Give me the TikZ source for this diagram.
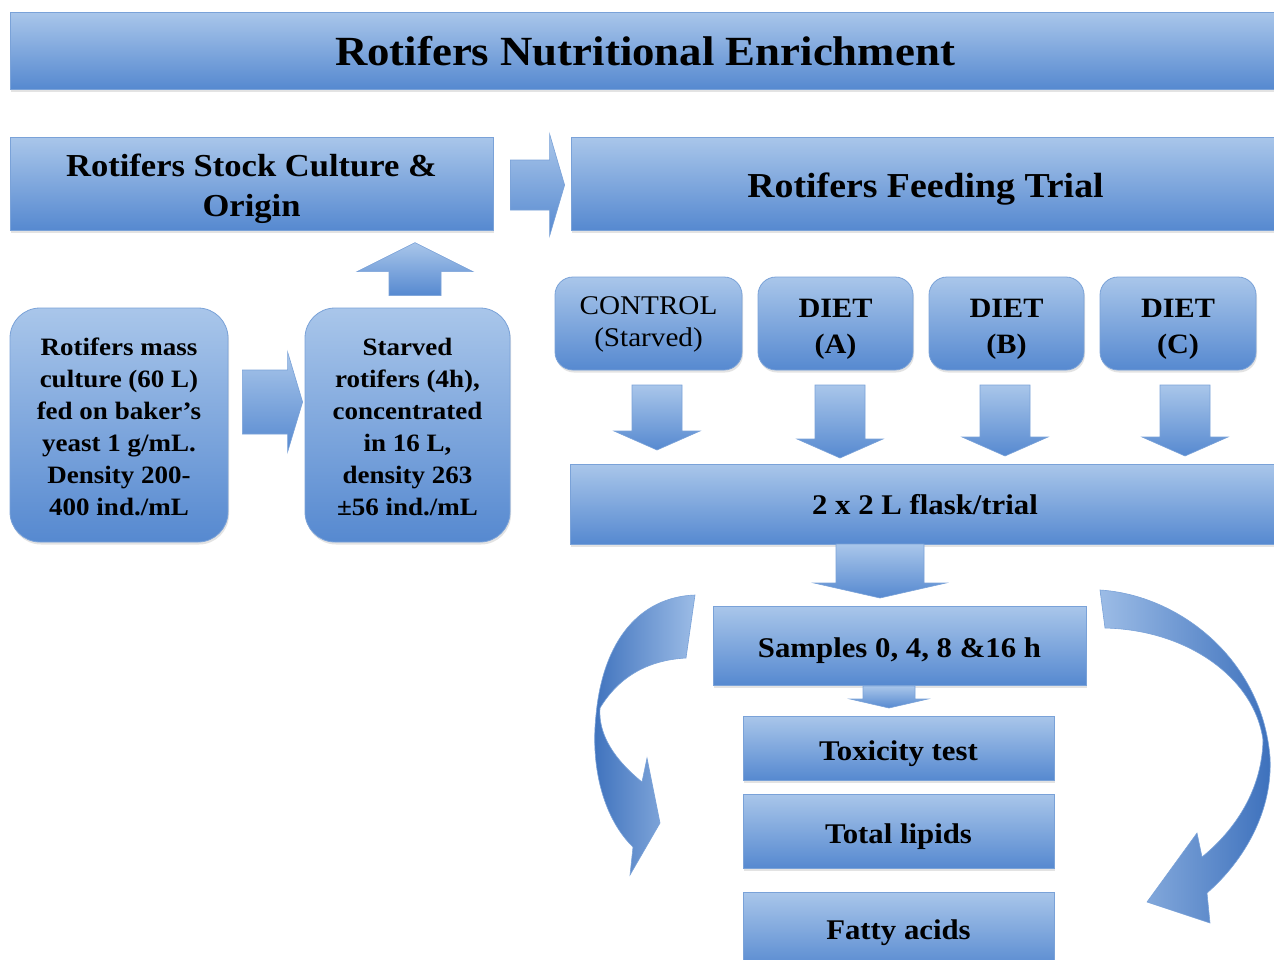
\documentclass[tikz,border=0pt]{standalone}
\usepackage{fontspec}
\setmainfont[FakeStretch=1.08]{Liberation Serif}
\usepackage{xcolor}
\usepackage{tikz}
\usetikzlibrary{calc,shadows}

\definecolor{boxtop}{RGB}{169,198,234}
\definecolor{boxbottom}{RGB}{86,137,208}
\definecolor{boxline}{RGB}{122,162,216}
\definecolor{arrowdark}{RGB}{60,112,188}
\definecolor{arrowlight}{RGB}{156,188,230}

% start, tip, shaft half width, head half width, head length
\newcommand{\blockarrow}[5]{%
	\coordinate (hb) at ($(#2)!#5pt!(#1)$);
	\path[arrowshade] ($(#1)!#3pt!90:(#2)$) -- ($(hb)!#3pt!90:(#2)$) -- ($(hb)!#4pt!90:(#2)$) -- (#2)
		-- ($(hb)!#4pt!-90:(#2)$) -- ($(hb)!#3pt!-90:(#2)$) -- ($(#1)!#3pt!-90:(#2)$) -- cycle;
}
% strut on the first line of a multi-line box
\newcommand{\lift}[1]{\rule{0pt}{#1}}

\begin{document}
\begin{tikzpicture}[x=1pt,y=-1pt,
	box/.style={draw=boxline, line width=0.8pt, top color=boxtop, bottom color=boxbottom,
		align=center, inner sep=0pt, text=black,
		drop shadow={opacity=0.22, shadow xshift=1pt, shadow yshift=-2.5pt}},
	roundbox/.style={box, rounded corners=#1},
	padded/.style={execute at end node={\rule[-0.25em]{0pt}{0pt}}},
	lowered/.style={padded, execute at begin node={\rule{0pt}{#1}}},
	arrowshade/.style={draw=boxline, line width=0.6pt, top color=boxtop, bottom color=boxbottom},
	headfont/.style={font=\bfseries\fontsize{41.5}{50}\selectfont},
	trialfont/.style={font=\bfseries\fontsize{35}{42}\selectfont},
	stockfont/.style={font=\bfseries\fontsize{32}{40}\selectfont},
	notefont/.style={font=\bfseries\fontsize{25}{32}\selectfont},
	controlfont/.style={font=\fontsize{27}{32}\selectfont},
	dietfont/.style={font=\bfseries\fontsize{28}{36}\selectfont},
	labelfont/.style={font=\bfseries\fontsize{28.5}{34}\selectfont}]

	% Page
	\fill[white] (0,0) rectangle (1274,959);
	\useasboundingbox (0,0) rectangle (1274,959);

	% Boxes
	\node[box, headfont, lowered=0.95em, minimum width=1270pt, minimum height=77pt] (title) at (645,50.5) {Rotifers Nutritional Enrichment};
	\node[box, stockfont, padded, minimum width=483pt, minimum height=93pt] (stock) at (251.5,183.5) {\lift{1.06em}Rotifers Stock Culture \&\\Origin};
	\node[box, trialfont, lowered=1.05em, minimum width=709pt, minimum height=93pt] (trial) at (925.5,183.5) {Rotifers Feeding Trial};
	\node[roundbox=30pt, notefont, padded, minimum width=218pt, minimum height=234pt] (mass) at (119,425)
		{\lift{1.09em}Rotifers mass\\culture (60 L)\\fed on baker’s\\yeast 1 g/mL.\\Density 200-\\400 ind./mL};
	\node[roundbox=30pt, notefont, padded, minimum width=205pt, minimum height=234pt] (starved) at (407.5,425)
		{\lift{1.09em}Starved\\rotifers (4h),\\concentrated\\in 16 L,\\density 263\\±56 ind./mL};
	\node[roundbox=18pt, controlfont, padded, minimum width=187pt, minimum height=93pt] (control) at (648.5,323.5) {\lift{0.76em}CONTROL\\(Starved)};
	\foreach \name/\x/\w/\lab in {dietA/835.5/155/A, dietB/1006.5/155/B, dietC/1178/156/C} {
			\node[roundbox=18pt, dietfont, padded, minimum width=\w pt, minimum height=93pt] (\name) at (\x,323.5) {\lift{1.09em}DIET\\(\lab)};
	}
	\node[box, labelfont, lowered=0.98em, minimum width=710pt, minimum height=80pt] (flask) at (925,504) {2 x 2 L flask/trial};
	\node[box, labelfont, lowered=1.09em, minimum width=373pt, minimum height=79pt] (samples) at (899.5,645.5) {Samples 0, 4, 8 \&16 h};
	\node[box, labelfont, lowered=1.12em, minimum width=311pt, minimum height=64pt] (toxicity) at (898.5,748) {Toxicity test};
	\node[box, labelfont, lowered=1.12em, minimum width=311pt, minimum height=74pt] (lipids) at (898.5,831) {Total lipids};
	\node[box, labelfont, lowered=0.84em, minimum width=311pt, minimum height=78pt] (fatty) at (898.5,931) {Fatty acids};

	% Arrow ends
	\coordinate (stock_s) at ($(stock.east)+(17,1.5)$);
	\coordinate (trial_t) at ($(trial.west)+(-6,1.5)$);
	\coordinate (mass_s) at ($(mass.east)+(14,-23)$);
	\coordinate (starved_t) at ($(starved.west)+(-2,-23)$);
	\coordinate (up_s) at ($(starved.north)+(7.5,-12)$);
	\coordinate (up_t) at ($(starved.north)+(7.5,-65)$);
	\coordinate (flask_s) at (880,544);
	\coordinate (flask_t) at (880,598);
	\coordinate (samples_s) at (889,686);
	\coordinate (samples_t) at (889,708);

	% Block arrows
	\blockarrow{stock_s}{trial_t}{25}{51}{15}
	\blockarrow{mass_s}{starved_t}{32}{50}{15}
	\blockarrow{up_s}{up_t}{26}{58}{29}
	\foreach \n/\x/\t in {control/657/450, dietA/840/458, dietB/1005/456, dietC/1185/456} {
			\coordinate (\n_s) at (\x,385);
			\coordinate (\n_t) at (\x,\t);
			\blockarrow{\n_s}{\n_t}{25}{43}{19}
	}
	\blockarrow{flask_s}{flask_t}{44}{66}{15}
	\blockarrow{samples_s}{samples_t}{26}{39}{9}

	% Curved arrows
	\path[draw=boxline, line width=0.6pt, left color=arrowdark, right color=arrowlight]
		(695,595) .. controls (640,597) and (603,640) .. (596,715)
		.. controls (590,770) and (605,820) .. (633,847) -- (630,875) -- (660,823) -- (647,758) -- (642,782)
		.. controls (615,760) and (598,735) .. (600,708)
		.. controls (620,675) and (650,660) .. (686,658) -- cycle;
	\path[draw=boxline, line width=0.6pt, left color=arrowlight, right color=arrowdark]
		(1100,590) .. controls (1180,595) and (1262,660) .. (1270,757)
		.. controls (1273,810) and (1245,860) .. (1207,893) -- (1210,923) -- (1147,902) -- (1197,833) -- (1202,857)
		.. controls (1235,830) and (1262,790) .. (1263,740)
		.. controls (1255,680) and (1190,630) .. (1105,628) -- cycle;
\end{tikzpicture}
\end{document}
